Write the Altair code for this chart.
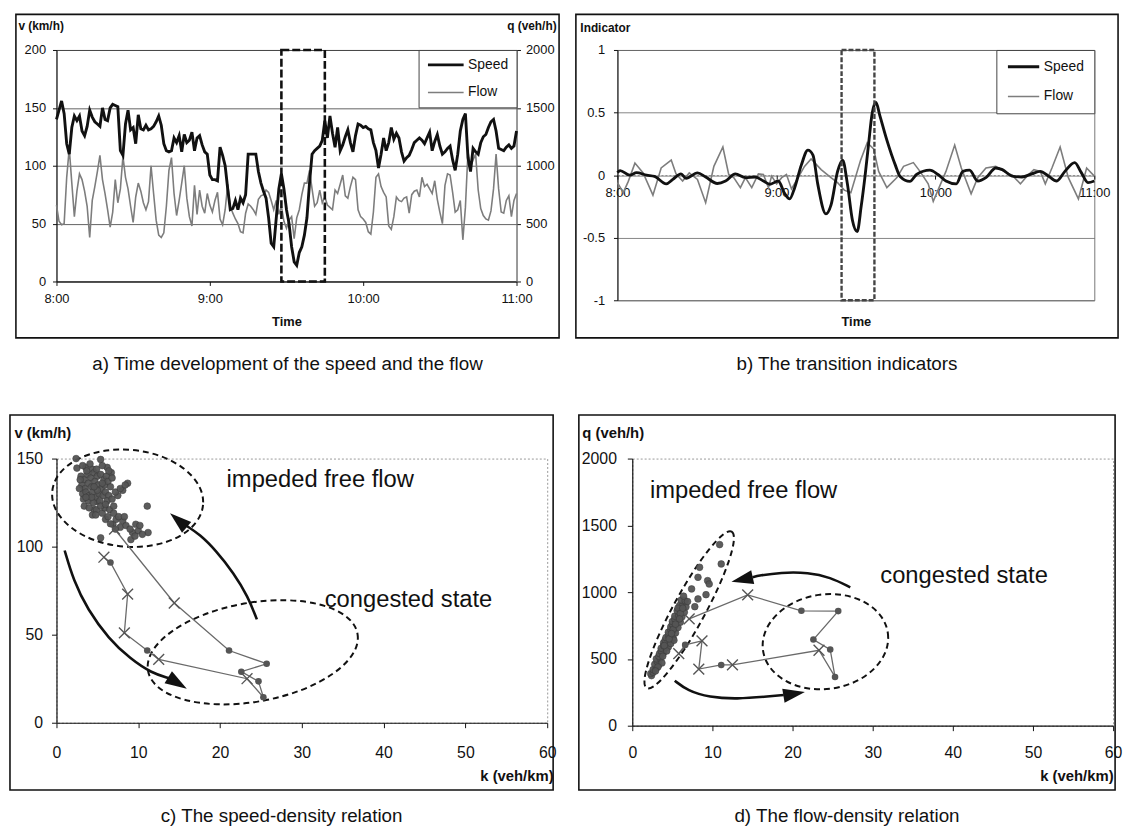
import altair as alt
import pandas as pd

FONT = "Liberation Sans, Arial, Helvetica, sans-serif"
NARROW = "Liberation Sans Narrow, Arial Narrow, Liberation Sans, sans-serif"
INK = "#111111"
GREY = "#7d7d7d"
DOT = "#555555"

# ------------------------------------------------------------------ data
# a) one value per minute after 8:00 (0 .. 180)
minutes = list(range(0, 181))
speed_kmh = [
    140, 148, 156, 145, 119, 110, 133, 143, 139, 143,
    130, 126, 134, 148, 142, 138, 136, 134, 150, 140,
    139, 150, 153, 152, 151, 113, 109, 136, 148, 131,
    133, 119, 144, 132, 131, 135, 131, 132, 134, 138,
    143, 135, 119, 113, 112, 113, 124, 120, 126, 112,
    127, 120, 122, 129, 113, 124, 126, 118, 112, 110,
    92, 88, 88, 87, 116, 109, 100, 80, 62, 63,
    70, 62, 72, 68, 75, 110, 110, 110, 110, 95,
    85, 78, 72, 55, 33, 30, 55, 80, 93, 80,
    62, 50, 30, 17, 14, 25, 30, 40, 55, 85,
    110, 113, 115, 117, 122, 139, 124, 143, 128, 116,
    133, 113, 118, 125, 131, 120, 112, 126, 136, 135,
    133, 134, 132, 131, 120, 113, 98, 110, 124, 113,
    120, 133, 123, 128, 124, 112, 104, 107, 109, 114,
    120, 122, 124, 122, 119, 124, 129, 113, 121, 127,
    117, 110, 112, 115, 117, 105, 96, 110, 130, 140,
    145, 107, 95, 115, 112, 110, 120, 125, 127, 133,
    138, 140, 130, 115, 114, 113, 116, 118, 115, 117,
    130,
]
flow_vehh = [
    660, 520, 490, 500, 900, 1150, 850, 560, 780, 930,
    880, 780, 650, 380, 700, 820, 950, 1090, 880, 760,
    620, 470, 600, 880, 680, 800, 1080, 900, 800, 650,
    510, 730, 850, 780, 680, 620, 690, 1000, 760, 530,
    400, 380, 420, 650, 960, 1070, 760, 570, 700, 850,
    1000, 720, 560, 480, 830, 580, 790, 650, 590, 760,
    660, 600, 700, 770, 540, 490, 620, 840, 650, 590,
    540, 500, 430, 420, 590, 670, 650, 620, 580, 710,
    740, 750, 790, 770, 700, 620, 700, 580, 650, 520,
    460, 530, 560, 370, 550, 620, 750, 850, 850, 960,
    800, 650, 680, 790, 680, 730, 660, 640, 620, 790,
    760, 840, 920, 740, 720, 820, 900, 880, 620, 560,
    540, 510, 430, 410, 600, 900, 930, 820, 770, 730,
    480, 450, 560, 730, 700, 690, 720, 730, 590, 750,
    780, 790, 730, 900, 820, 840, 800, 760, 870, 710,
    600, 500, 830, 930, 920, 770, 600, 620, 700, 360,
    640, 1120, 990, 1050, 1100, 790, 630, 570, 540, 530,
    610, 800, 1100, 800, 600, 590, 700, 740, 560, 700,
    760,
]
time_ticks = [0, 60, 120, 180]
series_names = ["Speed", "Flow"]
transition_a = [88, 105]

# b) transition indicators
ind_speed_t = [0, 1, 4.7, 7.2, 11, 14, 18.4, 20.9, 24, 25.9,
               30.2, 33.3, 37.7, 40.8, 44.5, 48.3, 52, 55.1, 57.6, 60.7,
               63.2, 65, 66.9, 69.4, 71.9, 73.8, 75.6, 78.7, 80.6, 83.1,
               85, 86.8, 88.7, 90.5, 92, 93.5, 94.8, 96.2, 97.6, 99,
               101.7, 104.9, 106.7, 110.4, 112.9, 117.9, 121, 124, 127.9, 130.4,
               132.9, 136, 139.1, 142.8, 145.3, 149, 152.7, 156.4, 159.6, 162.7,
               165.8, 168.9, 172.6, 175.1, 177.6, 180]
ind_speed = [0.02, 0.036, 0.0, 0.02, 0.0, -0.01, -0.07, -0.034, 0.01, -0.026,
             0.018, -0.015, -0.067, -0.047, 0.01, -0.02, -0.015, -0.047, -0.073, -0.047,
             -0.15, -0.19, -0.1, 0.08, 0.2, 0.16, -0.07, -0.31, -0.24, 0.03,
             0.12, -0.07, -0.36, -0.45, -0.25, 0.0, 0.25, 0.5, 0.58, 0.48,
             0.28, 0.08, -0.01, -0.05, 0.005, 0.04, 0.005, -0.047, -0.07, 0.03,
             0.04, -0.047, -0.02, 0.057, 0.044, -0.008, -0.015, 0.01, 0.03, -0.008,
             -0.047, 0.03, 0.1, 0.02, -0.06, -0.047]
ind_flow_t = [0, 2.2, 4.1, 6.6, 9.7, 13.4, 16.5, 20.3, 22.1, 24.6,
              27.1, 30.2, 33.3, 36.4, 39.8, 42, 43.9, 46.4, 48.3, 50.7,
              53.2, 55.1, 57, 58.2, 60.1, 62, 63.8, 65.7, 68.2, 70.6,
              73.1, 76.9, 80.6, 83.1, 85.6, 88.1, 91.8, 94.3, 96.7, 98.6,
              101.7, 105.5, 108, 111.7, 114.2, 117.3, 119.2, 121, 124, 127.3,
              129.8, 133.5, 136, 139.1, 142.8, 145.9, 149, 152.1, 154.6, 157.2,
              159.6, 161.5, 164, 167.1, 170.2, 174, 177.1, 180]
ind_flow = [-0.06, -0.14, -0.05, 0.096, 0.018, -0.16, 0.057, 0.12, 0.01, -0.047,
            0.018, -0.034, -0.22, 0.07, 0.225, 0.005, -0.02, -0.1, -0.02, -0.1,
            0.01, 0.005, -0.1, -0.008, -0.07, -0.02, 0.005, -0.11, -0.02, 0.07,
            0.13, 0.044, -0.02, -0.06, -0.12, -0.14, 0.12, 0.26, 0.21, 0.03,
            -0.1, -0.02, 0.07, 0.1, 0.03, -0.07, -0.21, -0.12, 0.03, 0.24,
            0.057, -0.15, -0.02, 0.057, 0.07, 0.03, 0.0, -0.07, -0.008, 0.044,
            0.03, -0.07, 0.057, 0.225, -0.02, -0.19, 0.057, -0.008]
transition_b = [84.6, 97]

# c) / d) observed points in the impeded free flow state
cluster_c_k = [2.4, 2.5, 3.6, 4.4, 5.4, 6.2, 6.7, 8.7, 8.1, 7.5, 11.1, 9.7, 9.3,
               10.0, 11.2, 9.1, 5.4, 6.9, 8.1, 6.0, 7.3, 4.6, 5.6, 4.4, 3.4, 5.0,
               3.0, 3.4, 3.8, 4.2, 4.6, 5.0, 5.4, 5.8, 6.1,
               3.1, 3.5, 3.9, 4.3, 4.7, 5.1, 5.5, 5.9, 6.3, 6.6,
               3.2, 3.6, 4.0, 4.4, 4.8, 5.2, 5.7, 6.0, 6.4,
               3.3, 3.9, 4.5, 5.3, 6.2, 6.8, 7.2, 7.8, 8.4,
               4.0, 4.9, 5.9, 6.5, 7.0,
               4.8, 6.3, 7.0, 7.6, 6.6, 7.8, 8.5, 7.2,
               2.8, 2.9, 3.7, 4.9, 5.6, 6.4, 4.1, 3.2,
               5.4, 6.0, 4.3, 5.0, 4.6, 5.6, 6.8, 3.6,
               9.6, 10.5, 9.0, 8.3, 10.2]
cluster_c_v = [150, 144.6, 145, 144, 149.5, 145, 142, 136, 132, 129, 123, 112.7, 108,
               109, 108, 104, 105, 112.7, 114.5, 115.5, 115.5, 121, 119, 118, 123, 125.6,
               140, 138, 141, 139, 142, 140, 141, 138, 140,
               135, 133, 136, 134, 137, 135, 133, 135, 137, 134,
               130, 131, 129, 131, 128, 130, 129, 131, 129,
               127, 126, 125, 126, 126, 127, 131, 133, 135,
               122, 121, 122, 121, 123,
               118, 117, 119, 117, 113, 111, 112, 110,
               133, 138, 143, 144, 146, 143, 147, 146,
               123, 124, 128, 132, 134, 136, 139, 128,
               106, 107, 110, 117, 112]
cluster_d_k = [10.9, 11.1, 8.4, 8.2, 9.4, 9.6, 7.4, 9.2, 8.2, 7.8,
               2.4, 2.3, 2.6, 2.6, 3.0, 2.8, 3.3, 3.1, 3.0, 3.5,
               3.3, 3.4, 3.9, 3.6, 3.6, 4.2, 3.9, 4.5, 3.9, 4.4,
               4.8, 4.1, 4.2, 4.7, 5.1, 4.5, 4.5, 5.0, 5.4, 4.8,
               4.8, 5.2, 5.7, 5.0, 5.0, 5.5, 6.0, 5.3, 5.3, 5.8,
               6.2, 5.6, 6.1, 6.5, 5.9, 6.3, 6.7, 6.1, 6.6, 6.4,
               5.7, 4.3, 5.2, 3.7, 6.9, 6.0,
               4.0, 4.6, 5.1, 5.4, 5.9, 6.3, 3.2, 2.9, 3.8, 4.9]
cluster_d_q = [1356, 1211, 1186, 1111, 1086, 1061, 1024, 981, 949, 891,
               375, 390, 400, 420, 430, 460, 455, 480, 500, 505,
               520, 540, 545, 560, 580, 585, 600, 590, 620, 625,
               615, 640, 660, 665, 655, 680, 700, 705, 695, 720,
               740, 745, 735, 760, 780, 785, 775, 800, 820, 825,
               815, 860, 865, 850, 900, 905, 890, 940, 935, 970,
               880, 560, 640, 470, 930, 840,
               600, 650, 720, 760, 800, 880, 440, 410, 520, 690]

# c) / d) trajectory through the congested state
traj_k = [5.8, 6.6, 8.7, 8.3, 11.1, 12.5, 23.3, 25.3, 24.7, 22.6, 25.7, 21.1, 14.4, 7.1]
traj_v = [94, 91, 73, 51, 41, 36, 25, 14.5, 23.5, 29, 33.5, 41, 68, 110]
traj_q = [540, 605, 635, 424, 455, 455, 565, 365, 570, 645, 858, 860, 980, 800]
traj_marker = ["x", "o", "x", "x", "o", "x", "x", "o", "o", "o", "o", "o", "x", "x"]

# annotations (data coordinates)
state_labels = ["impeded free flow", "congested state"]
label_c_k = [20.8, 32.8]
label_c_v = [137.8, 69.9]
label_d_k = [2.2, 30.95]
label_d_q = [1760, 1124]
ellipse_c_k = [8.7, 24.0]
ellipse_c_v = [127.5, 40.0]
ellipse_d_k = [7.1, 24.1]
ellipse_d_q = [867, 629]
arrow_c_down_k = [1.0, 2.06, 3.8, 6.4, 9.0, 11.7, 13.8]
arrow_c_down_v = [97.8, 81, 64.3, 47.6, 36.4, 28, 25.3]
arrow_c_up_k = [24.5, 23.4, 21.7, 19.5, 17.5, 15.9]
arrow_c_up_v = [58.7, 71.8, 84.8, 97.8, 107, 111.8]
arrow_d_left_k = [27.2, 24.7, 22.0, 18.5, 15.8, 15.0]
arrow_d_left_q = [1036, 1111, 1148, 1148, 1124, 1112]
arrow_d_right_k = [5.3, 6.9, 9.6, 13.1, 16.7, 18.9]
arrow_d_right_q = [337, 262, 212, 200, 217, 230]
head_c_k = [14.8, 14.9]
head_c_v = [22.6, 115]
head_d_k = [13.7, 20.2]
head_d_q = [1095, 238]

# ------------------------------------------------------------------ helpers
ONE = pd.DataFrame({"one": [0]})
X_SHAPE = "M-1,-1L1,1M-1,1L1,-1"
HEAD_SHAPE = "M0,-1L0.65,1L-0.65,1Z"


def ellipse_shape(r):
    c = 0.5523
    cr = round(c * r, 4)
    return (f"M1,0C1,{cr},{c},{r},0,{r}C{-c},{r},-1,{cr},-1,0"
            f"C-1,{-cr},{-c},{-r},0,{-r}C{c},{-r},1,{-cr},1,0Z")


def frame_layer(x1, x2, y1, y2):
    return alt.Chart(ONE).mark_rect(fillOpacity=0, stroke=INK, strokeWidth=1.6).encode(
        x=alt.value(x1), x2=alt.value(x2), y=alt.value(y1), y2=alt.value(y2))


def caption_layer(text, cx, cy):
    return alt.Chart(ONE).mark_text(text=text, font=FONT, fontSize=19, color=INK,
                                    align="center", baseline="middle").encode(
        x=alt.value(cx), y=alt.value(cy))


time_label = "floor(datum.value / 60) + 8 + ':00'"
sc_t = alt.Scale(domain=[0, 180], nice=False, zero=False)

common_axis = dict(labelFont=FONT, labelColor=INK, titleFont=FONT, titleColor=INK,
                   titleFontWeight="bold", tickColor=INK, labelFlush=False)


def series_legend(row_pad, pad, sym):
    return alt.Legend(title=None, orient="top-right", offset=0, padding=pad,
                      rowPadding=row_pad, symbolType="stroke", symbolSize=sym,
                      clipHeight=14, labelFont=FONT, labelFontSize=14, labelColor=INK,
                      labelOffset=3, strokeColor="#444444", fillColor="white",
                      labelLimit=200)


# ------------------------------------------------------------------ panel a
W_A, H_A = 465, 234
ax_time_a = alt.Axis(values=time_ticks, labelExpr=time_label, title="Time",
                     labelFontSize=13, labelPadding=7, tickSize=4, domainColor=INK,
                     titleFontSize=13, titleY=40, titleBaseline="middle", grid=False,
                     **common_axis)
sc_v_a = alt.Scale(domain=[0, 200], nice=False)
ax_v_a = alt.Axis(values=[0, 50, 100, 150, 200], title="v (km/h)", titleAngle=0,
                  titleAlign="left", titleBaseline="middle", titleX=-39, titleY=-25,
                  titleFontSize=12, labelFontSize=13, labelPadding=7, tickSize=4,
                  domainColor=INK, grid=True, gridColor="#3a3a3a", gridWidth=0.8,
                  **common_axis)
sc_q_a = alt.Scale(domain=[0, 2000], nice=False)
ax_q_a = alt.Axis(orient="right", values=[0, 500, 1000, 1500, 2000], format="d",
                  title="q (veh/h)", titleAngle=0, titleAlign="right", titleBaseline="middle",
                  titleX=40, titleY=-25, titleFontSize=12, labelFontSize=13, labelPadding=5,
                  tickSize=4, domainColor="#777777", grid=False, **common_axis)
legend_a = series_legend(14, 8, 1300)
color_a = alt.Color("series:N", scale=alt.Scale(domain=series_names, range=[INK, GREY]),
                    legend=legend_a)
width_a = alt.StrokeWidth("series:N", scale=alt.Scale(domain=series_names, range=[2.9, 1.6]),
                          legend=legend_a)

df_speed = pd.DataFrame({"t": minutes, "val": speed_kmh, "series": "Speed"})
df_flow = pd.DataFrame({"t": minutes, "val": flow_vehh, "series": "Flow"})
df_box_a = pd.DataFrame({"t0": [transition_a[0]], "t1": [transition_a[1]]})

flow_line_a = alt.Chart(df_flow).mark_line().encode(
    x=alt.X("t:Q", scale=sc_t, axis=ax_time_a),
    y=alt.Y("val:Q", scale=sc_q_a, axis=ax_q_a),
    color=color_a, strokeWidth=width_a)
speed_line_a = alt.Chart(df_speed).mark_line().encode(
    x=alt.X("t:Q", scale=sc_t, axis=ax_time_a),
    y=alt.Y("val:Q", scale=sc_v_a, axis=ax_v_a),
    color=color_a, strokeWidth=width_a)
box_a = alt.Chart(df_box_a).mark_rect(fillOpacity=0, stroke=INK, strokeWidth=2.6,
                                      strokeDash=[8, 3]).encode(
    x=alt.X("t0:Q", scale=sc_t, axis=ax_time_a), x2="t1:Q",
    y=alt.value(0), y2=alt.value(H_A))

panel_a = alt.layer(
    frame_layer(-41, 508, -36, 291),
    flow_line_a,
    alt.layer(speed_line_a, box_a),
    caption_layer("a) Time development of the speed and the flow", 233.5, 317),
).resolve_scale(y="independent").properties(
    width=W_A, height=H_A, view=alt.ViewBackground(stroke="#777777", strokeWidth=1))

# ------------------------------------------------------------------ panel b
W_B, H_B = 482, 253
ax_time_b = alt.Axis(values=time_ticks, labelExpr=time_label, title="Time",
                     offset=-H_B / 2, labelFontSize=13, labelPadding=8, tickSize=4,
                     domainColor="#888888", domainDash=[2, 2], titleFontSize=13,
                     titleY=147.5, titleBaseline="middle", grid=False, **common_axis)
sc_i = alt.Scale(domain=[-1, 1], nice=False)
ax_i = alt.Axis(values=[-1, -0.5, 0, 0.5, 1], labelExpr="'' + datum.value",
                title="Indicator", titleAngle=0, titleAlign="left", titleBaseline="middle",
                titleX=-38, titleY=-23, titleFontSize=12, labelFontSize=13, labelPadding=9,
                tickSize=4, domainColor=INK, grid=True, gridColor="#666666", gridWidth=0.8,
                **common_axis)
legend_b = series_legend(16, 10, 1000)
color_b = alt.Color("series:N", scale=alt.Scale(domain=series_names, range=[INK, GREY]),
                    legend=legend_b)
width_b = alt.StrokeWidth("series:N", scale=alt.Scale(domain=series_names, range=[2.9, 1.6]),
                          legend=legend_b)
df_ind_speed = pd.DataFrame({"t": ind_speed_t, "val": ind_speed, "series": "Speed"})
df_ind_flow = pd.DataFrame({"t": ind_flow_t, "val": ind_flow, "series": "Flow"})
df_box_b = pd.DataFrame({"t0": [transition_b[0]], "t1": [transition_b[1]]})

flow_line_b = alt.Chart(df_ind_flow).mark_line().encode(
    x=alt.X("t:Q", scale=sc_t, axis=ax_time_b),
    y=alt.Y("val:Q", scale=sc_i, axis=ax_i),
    color=color_b, strokeWidth=width_b)
speed_line_b = alt.Chart(df_ind_speed).mark_line(interpolate="monotone").encode(
    x=alt.X("t:Q", scale=sc_t, axis=ax_time_b),
    y=alt.Y("val:Q", scale=sc_i, axis=ax_i),
    color=color_b, strokeWidth=width_b)
box_b = alt.Chart(df_box_b).mark_rect(fillOpacity=0, stroke="#444444", strokeWidth=2.4,
                                      strokeDash=[5, 2]).encode(
    x=alt.X("t0:Q", scale=sc_t, axis=ax_time_b), x2="t1:Q",
    y=alt.value(0), y2=alt.value(H_B))

panel_b = alt.layer(
    frame_layer(-42, 506, -36, 291),
    flow_line_b, speed_line_b, box_b,
    caption_layer("b) The transition indicators", 232, 317),
).properties(width=W_B, height=H_B,
             view=alt.ViewBackground(stroke="#777777", strokeWidth=1))


# ------------------------------------------------------------------ panels c, d
def relation_panel(W, H, ymax, yvals, ytitle, ytx, yty, ylpad,
                   ktx, kty, klpad, cl_k, cl_y, traj_y, lab_k, lab_y,
                   ell_k, ell_y, ell_specs, arrows, heads, frame, caption):
    sc_k = alt.Scale(domain=[0, 60], nice=False)
    ax_k = alt.Axis(values=[0, 10, 20, 30, 40, 50, 60], title="k (veh/km)", titleAngle=0,
                    titleAlign="right", titleBaseline="middle", titleX=ktx, titleY=kty,
                    titleFontSize=15, labelFont=NARROW, labelFontSize=16,
                    labelPadding=klpad, tickSize=5, labelFlush=False, grid=False,
                    domainColor=INK, domainWidth=1.2, tickColor=INK, labelColor=INK,
                    titleFont=FONT, titleColor=INK, titleFontWeight="bold")
    sc_y = alt.Scale(domain=[0, ymax], nice=False)
    ax_y = alt.Axis(values=yvals, format="d", title=ytitle, titleAngle=0, titleAlign="left",
                    titleBaseline="middle", titleX=ytx, titleY=yty, titleFontSize=15,
                    labelFont=NARROW, labelFontSize=16, labelPadding=ylpad, tickSize=5,
                    labelFlush=False, grid=False, domainColor=INK, domainWidth=1.2,
                    tickColor=INK, labelColor=INK, titleFont=FONT, titleColor=INK,
                    titleFontWeight="bold")

    def xy(df_chart):
        return df_chart.encode(x=alt.X("k:Q", scale=sc_k, axis=ax_k),
                               y=alt.Y("y:Q", scale=sc_y, axis=ax_y))

    layers = [frame_layer(*frame)]
    for i, (ratio, size, angle) in enumerate(ell_specs):
        d = pd.DataFrame({"k": [ell_k[i]], "y": [ell_y[i]]})
        layers.append(xy(alt.Chart(d).mark_point(
            shape=ellipse_shape(ratio), size=size, angle=angle, filled=False,
            stroke=INK, strokeWidth=2, strokeDash=[6, 4], opacity=1)))
    for ak, ay in arrows:
        d = pd.DataFrame({"i": list(range(len(ak))), "k": ak, "y": ay})
        layers.append(xy(alt.Chart(d).mark_line(
            interpolate="basis", color=INK, strokeWidth=2.6)).encode(order="i:Q"))
    for (hk, hy), angle in heads:
        d = pd.DataFrame({"k": [hk], "y": [hy]})
        layers.append(xy(alt.Chart(d).mark_point(
            shape=HEAD_SHAPE, size=484, angle=angle, filled=True, color=INK, opacity=1)))
    cl = pd.DataFrame({"k": cl_k, "y": cl_y})
    layers.append(xy(alt.Chart(cl).mark_circle(size=46, color=DOT, opacity=0.95,
                                               stroke="#3a3a3a", strokeWidth=0.6)))
    tr = pd.DataFrame({"i": list(range(len(traj_k))), "k": traj_k, "y": traj_y,
                       "marker": traj_marker})
    layers.append(xy(alt.Chart(tr).mark_line(color="#6a6a6a", strokeWidth=1.3)).encode(
        order="i:Q"))
    layers.append(xy(alt.Chart(tr).transform_filter("datum.marker == 'o'").mark_circle(
        size=44, color=DOT, opacity=1)))
    layers.append(xy(alt.Chart(tr).transform_filter("datum.marker == 'x'").mark_point(
        shape=X_SHAPE, size=120, filled=False, color="#555555", strokeWidth=1.4,
        opacity=1)))
    lab = pd.DataFrame({"k": lab_k, "y": lab_y, "label": state_labels})
    layers.append(xy(alt.Chart(lab).mark_text(
        align="left", baseline="middle", font=FONT, fontSize=24, color=INK)).encode(
        text="label:N"))
    layers.append(caption_layer(caption[0], caption[1], caption[2]))
    return alt.layer(*layers).properties(
        width=W, height=H,
        view=alt.ViewBackground(stroke="#999999", strokeWidth=1, strokeDash=[2, 2]))


panel_c = relation_panel(
    W=496, H=267, ymax=150, yvals=[0, 50, 100, 150],
    ytitle="v (km/h)", ytx=-43, yty=-26, ylpad=9, ktx=502, kty=53, klpad=17,
    cl_k=cluster_c_k, cl_y=cluster_c_v, traj_y=traj_v,
    lab_k=label_c_k, lab_y=label_c_v, ell_k=ellipse_c_k, ell_y=ellipse_c_v,
    ell_specs=[(0.64, 23409, 5), (0.465, 46225, 350)],
    arrows=[(arrow_c_down_k, arrow_c_down_v), (arrow_c_up_k, arrow_c_up_v)],
    heads=[((head_c_k[0], head_c_v[0]), 121.6), ((head_c_k[1], head_c_v[1]), 310.5)],
    frame=(-47, 502, -44, 335),
    caption=("c) The speed-density relation", 227.5, 361))

panel_d = relation_panel(
    W=486, H=270, ymax=2000, yvals=[0, 500, 1000, 1500, 2000],
    ytitle="q (veh/h)", ytx=-51, yty=-26, ylpad=11, ktx=486, kty=50, klpad=14,
    cl_k=cluster_d_k, cl_y=cluster_d_q, traj_y=traj_q,
    lab_k=label_d_k, lab_y=label_d_q, ell_k=ellipse_d_k, ell_y=ellipse_d_q,
    ell_specs=[(0.18, 32400, 298.5), (0.75, 16231, 352)],
    arrows=[(arrow_d_left_k, arrow_d_left_q), (arrow_d_right_k, arrow_d_right_q)],
    heads=[((head_d_k[0], head_d_q[0]), 257.8), ((head_d_k[1], head_d_q[1]), 80.5)],
    frame=(-54, 488, -44, 335),
    caption=("d) The flow-density relation", 217, 361))

row1 = alt.hconcat(panel_a, panel_b, spacing=13).resolve_scale(
    color="independent", strokeWidth="independent").resolve_legend(
    color="independent", strokeWidth="independent")
row2 = alt.hconcat(panel_c, panel_d, spacing=20)

chart = alt.vconcat(row1, row2, spacing=39).resolve_scale(
    color="independent", strokeWidth="independent").resolve_legend(
    color="independent", strokeWidth="independent").properties(
    padding={"left": 0, "top": 0, "right": 0, "bottom": 0}, background="white",
    autosize=alt.AutoSizeParams(type="pad"))

chart.save("out.html", embed_options={"renderer": "svg", "actions": False})
